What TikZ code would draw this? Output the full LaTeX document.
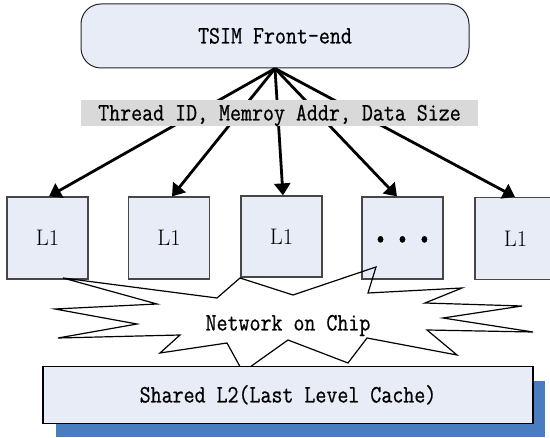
\documentclass[tikz,border=0pt]{standalone}
\usepackage{fontspec}
\usetikzlibrary{arrows.meta}
\newfontfamily\monof[FakeStretch=0.85,FakeBold=0.6]{Latin Modern Mono}
\definecolor{boxfill}{RGB}{231,236,247}
\definecolor{labelgray}{RGB}{217,217,217}
\definecolor{shadowblue}{RGB}{74,124,192}
\definecolor{boxline}{RGB}{70,70,70}
\tikzset{
  mono/.style={font=\fontsize{25.1}{28}\monof, text height=15pt, text depth=0pt, inner sep=0pt},
  lone/.style={draw=boxline, line width=1.2pt, fill=boxfill, minimum width=81pt, minimum height=82pt, inner sep=0pt,
    font=\fontsize{22.5}{26}\selectfont, text height=15.3pt, text depth=0pt},
  feed/.style={line width=2.8pt, -{Triangle[length=12pt,width=16pt]}},
}
\begin{document}
\begin{tikzpicture}[x=1pt,y=-1pt]
\useasboundingbox (0,0) rectangle (550,438);
% top box
\node[draw=black!85, line width=1pt, fill=boxfill, rounded corners=20pt, minimum width=388pt, minimum height=64pt, mono] (top) at (275,36) {TSIM Front-end};
% L1 boxes
\node[lone] (b1) at (47.5,238) {L1};
\node[lone] (b2) at (169,238) {L1};
\node[lone, minimum height=81pt] (b3) at (281.5,236.5) {L1};
\node[lone, mono] (b4) at (402.5,238) {• • •};
\node[lone] (b5) at (515.5,238.5) {L1};
% arrows
\draw[feed] (top.south) -- ([xshift=1.5pt]b1.north);
\draw[feed] (top.south) -- ([xshift=3pt]b2.north);
\draw[feed] (top.south) -- ([xshift=1.5pt]b3.north);
\draw[feed] (top.south) -- ([xshift=-5.5pt]b4.north);
\draw[feed] (top.south) -- ([xshift=-0.5pt]b5.north);
% label
\node[fill=labelgray, minimum width=397pt, minimum height=26pt, mono] (lab) at (279.5,113) {Thread ID, Memroy Addr, Data Size};
% network on chip star
\draw[line width=1.2pt, line join=miter] (63,278) -- (217,298) -- (240,278) -- (293,295) -- (376,267) -- (368,293) -- (462,288) -- (425,303) -- (522,306) -- (443,318) -- (533,332) -- (427,330) -- (457,355) -- (367,338) -- (348,363) -- (288,340) -- (243,372) -- (227,343) -- (160,353) -- (180,335) -- (58,338) -- (137,324) -- (55,309) -- (157,304) -- cycle;
\node[mono] (noc) at (288,323) {Network on Chip};
% shared L2 with shadow
\fill[shadowblue] (56,381) rectangle (545,437);
\node[draw=black, line width=1.2pt, fill=boxfill, minimum width=490pt, minimum height=57pt, mono] (l2) at (288,395) {Shared L2(Last Level Cache)};
\end{tikzpicture}
\end{document}
